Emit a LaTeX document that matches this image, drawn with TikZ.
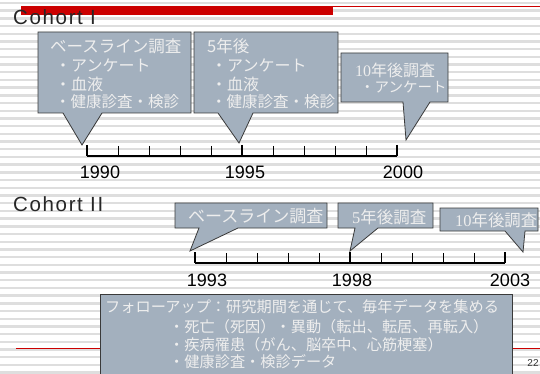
\documentclass[tikz,border=0pt]{standalone}
\usepackage{fontspec}
\setmainfont{Liberation Sans}
\newfontfamily\jp{Noto Sans CJK JP}
\newfontfamily\jps{Liberation Serif}
\newfontfamily\coh[LetterSpace=8]{Liberation Sans}
\definecolor{cfill}{HTML}{A3B0BE}
\definecolor{cborder}{HTML}{3A3A3A}
\definecolor{ctext}{HTML}{EEEEEE}
\definecolor{stripecol}{HTML}{DEDEDE}
\definecolor{redbar}{HTML}{CC0000}
\begin{document}
\begin{tikzpicture}[x=1pt,y=-1pt,
  callbox/.style={fill=cfill,draw=cborder,line width=0.8pt,line join=miter},
  jt/.style={anchor=west,inner sep=0pt,text=ctext,font=\jp\fontsize{#1}{18}\selectfont},
  jt/.default=16,
  yearlbl/.style={inner sep=0pt,font=\fontsize{18}{19}\selectfont},
  cohortlbl/.style={anchor=base west,inner sep=0pt,text=black!85,font=\coh\fontsize{20.5}{21}\selectfont},
  axisline/.style={line width=2pt},
  majtick/.style={line width=1.8pt},
  mintick/.style={line width=0.9pt}
]
\useasboundingbox (0,0) rectangle (540,374);
\fill[white] (0,0) rectangle (540,374);
% stripes
\foreach \i in {0,...,48}
  \draw[stripecol,line width=2.4pt] (0,{3+7.7*\i}) -- (540,{3+7.7*\i});
% red bars
\fill[redbar] (21,6) rectangle (333,15);
\draw[redbar,line width=1pt] (21,6.5) -- (540,6.5);
\draw[redbar,line width=1pt] (16,348) -- (540,348);

% Cohort labels
\node[cohortlbl] (coh1) at (13,25) {Cohort I};
\node[cohortlbl] (coh2) at (13,211) {Cohort II};

% ---- Cohort I callouts
\draw[callbox] (38,32) -- (191,32) -- (191,113) -- (102,113) -- (82,145) -- (63,113) -- (38,113) -- cycle;
\draw[callbox] (194,32) -- (338,32) -- (338,113) -- (253,113) -- (239,143) -- (218,113) -- (194,113) -- cycle;
\draw[callbox] (341,53) -- (448,53) -- (448,102) -- (430,102) -- (406,140) -- (403,102) -- (341,102) -- cycle;

\node[jt=16.5] (a1) at (50,46.5) {ベースライン調査};
\node[jt] (a2) at (55,65) {・アンケート};
\node[jt] (a3) at (55,84) {・血液};
\node[jt=15.5] (a4) at (55,101.5) {・健康診査・検診};

\node[jt=16.5] (b1) at (207,46.5) {5年後};
\node[jt] (b2) at (211,65) {・アンケート};
\node[jt] (b3) at (211,84) {・血液};
\node[jt=15.5] (b4) at (211,101.5) {・健康診査・検診};

\node[jt=16] (c1) at (355,70) {{\jps 10}年後調査};
\node[jt=14.5] (c2) at (360,87) {・アンケート};

% ---- Cohort I timeline
\draw[axisline] (87,156) -- (397,156);
\foreach \i in {1,2,3,4,6,7,8,9}
  \draw[mintick] ({87+31*\i},146) -- ({87+31*\i},156);
\foreach \i in {0,5,10}
  \draw[majtick] ({87+31*\i},145) -- ({87+31*\i},156);
\node[yearlbl] (y1990) at (100,172) {1990};
\node[yearlbl] (y1995) at (245,172) {1995};
\node[yearlbl] (y2000) at (403,172) {2000};

% ---- Cohort II callouts
\draw[callbox] (175,203) -- (327,203) -- (327,228) -- (238,228) -- (190,251) -- (199,228) -- (175,228) -- cycle;
\draw[callbox] (338,203) -- (433,203) -- (433,228) -- (378,228) -- (350,251) -- (355,228) -- (338,228) -- cycle;
\draw[callbox] (440,208) -- (538,208) -- (538,231) -- (525,231) -- (523,252) -- (505,231) -- (440,231) -- cycle;

\node[jt=17] (d1) at (188,216.5) {ベースライン調査};
\node[jt=16.5] (e1) at (352,217) {{\jps 5}年後調査};
\node[jt=16.4] (f1) at (455,220) {{\jps 10}年後調査};

% ---- Cohort II timeline
\draw[axisline] (195,263) -- (505,263);
\foreach \i in {1,2,3,4,6,7,8,9}
  \draw[mintick] ({195+31*\i},253) -- ({195+31*\i},263);
\foreach \i in {0,5,10}
  \draw[majtick] ({195+31*\i},252) -- ({195+31*\i},263);
\node[yearlbl] (y1993) at (207,280) {1993};
\node[yearlbl] (y1998) at (352,280) {1998};
\node[yearlbl] (y2003) at (510,280) {2003};

% ---- follow-up box
\draw[callbox] (100,294) rectangle (512,380);
\node[jt=15.2] (g1) at (105,307) {フォローアップ：研究期間を通じて、毎年データを集める};
\node[jt=15.2] (g2) at (169,327) {・死亡（死因）・異動（転出、転居、再転入）};
\node[jt=15.2] (g3) at (169,344.5) {・疾病罹患（がん、脳卒中、心筋梗塞）};
\node[jt=15.2] (g4) at (169,362) {・健康診査・検診データ};

% page number
\node[inner sep=0pt,text=black!80,font=\fontsize{10}{11}\selectfont] (pg) at (533,363) {22};
\end{tikzpicture}
\end{document}
